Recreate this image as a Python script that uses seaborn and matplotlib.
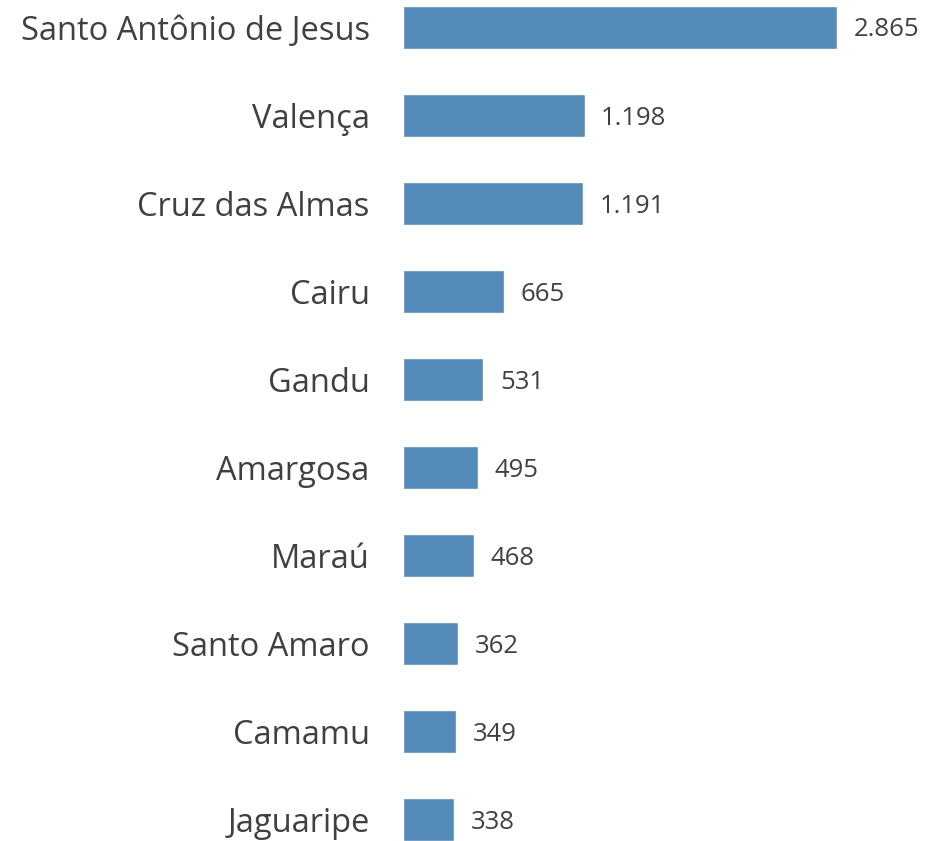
import pandas as pd
import matplotlib
matplotlib.use("Agg")
import matplotlib.pyplot as plt
import seaborn as sns

municipios = ["Santo Antônio de Jesus", "Valença", "Cruz das Almas", "Cairu", "Gandu",
              "Amargosa", "Maraú", "Santo Amaro", "Camamu", "Jaguaripe"]
valores = [2865, 1198, 1191, 665, 531, 495, 468, 362, 349, 338]

df = pd.DataFrame({"municipio": municipios, "valor": valores})

sns.set_style("white")
plt.rcParams['font.family'] = ['Open Sans', 'DejaVu Sans']

fig = plt.figure(figsize=(9.33, 8.41), dpi=100)
ax = fig.add_axes([403 / 933, 0, 530 / 933, 1])

sns.barplot(data=df, x="valor", y="municipio", orient="h",
            color="#548BB9", saturation=1, width=0.49, ax=ax)

for i, v in enumerate(valores):
    txt = f"{v:,}".replace(",", ".")
    ax.text(v + 110, i + 0.03, txt, va="center", ha="left", fontsize=18.5, color="#404040")

ax.set_xlim(0, 3498)
ax.set_ylim(9.24, -0.31)
ax.set_xlabel("")
ax.set_ylabel("")
ax.set_xticks([])
ax.tick_params(axis="y", length=0, pad=24, labelsize=23.5, labelcolor="#404040")
sns.despine(ax=ax, left=True, bottom=True)

fig.savefig("out.png", dpi=100)
